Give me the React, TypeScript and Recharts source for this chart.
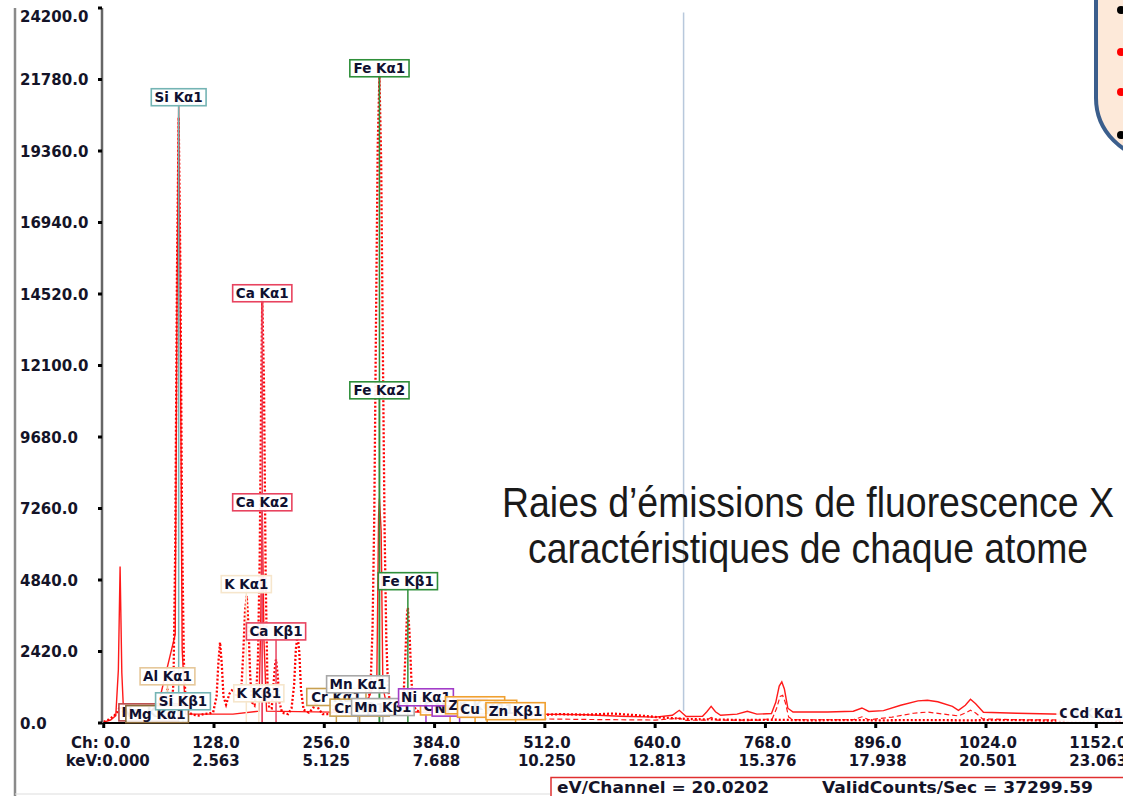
import React from "react";
import {
  LineChart,
  Line,
  XAxis,
  YAxis,
  ReferenceLine,
  ReferenceDot,
} from "recharts";

const W = 1123;
const H = 796;

// channel ticks and their keV labels (20.0202 eV / channel)
const chTicks = [0, 128, 256, 384, 512, 640, 768, 896, 1024, 1152];
const keVLabels = ["0.000", "2.563", "5.125", "7.688", "10.250", "12.813", "15.376", "17.938", "20.501", "23.063"];
const countTicks = [0, 2420, 4840, 7260, 9680, 12100, 14520, 16940, 19360, 21780, 24200];

// [channel, counts] - dotted spectrum
const dottedTrace: [number, number][] = [
  [0, 40], [6, 120], [12, 240], [16, 380], [19, 560], [22, 400], [26, 220], [32, 150], [38, 170],
  [44, 220], [48, 290], [52, 380], [56, 300], [60, 340], [63, 480], [66, 380], [69, 420], [71, 700], [74, 1150], [77, 720],
  [79, 520], [81, 1400], [83, 6000], [85, 15200], [87, 20500], [89, 15300], [91, 6400], [93, 2100], [95, 760], [98, 360],
  [104, 280], [110, 250], [116, 300], [122, 320], [127, 360], [131, 900], [133, 2000], [135, 2730], [137, 2000], [139, 900], [142, 620],
  [146, 1000], [150, 1150], [154, 880], [158, 1080], [160, 1300], [162, 2400], [164, 3800], [166, 4300], [168, 3300], [170, 1600], [172, 700],
  [175, 600], [177, 1000], [179, 2200], [181, 5500], [183, 12000], [184, 14400], [186, 11500], [188, 4800], [190, 1400], [192, 520],
  [195, 500], [197, 1300], [199, 2000], [200, 2150], [202, 1600], [204, 700], [207, 350],
  [214, 300], [218, 500], [221, 1300], [223, 2500], [225, 2960], [227, 2400], [229, 1100], [232, 450],
  [238, 350], [243, 500], [246, 700], [249, 500], [254, 300],
  [262, 300], [267, 450], [270, 620], [273, 450], [278, 320],
  [288, 360], [292, 700], [295, 1000], [298, 720], [303, 520],
  [306, 650], [308, 900], [310, 1500], [312, 3200], [314, 7000], [316, 13500], [318, 19500], [320, 21900], [322, 19000], [324, 12500], [326, 6500], [328, 2800], [330, 1200], [332, 700],
  [338, 500], [344, 520], [348, 900], [350, 2200], [352, 3700], [353, 3900], [355, 3000], [357, 1500], [359, 700], [362, 450],
  [368, 350], [374, 520], [380, 320], [395, 280], [402, 420], [408, 280], [424, 260], [431, 460], [437, 260], [470, 220], [478, 280], [486, 200],
  [500, 260], [530, 300], [560, 280], [590, 320], [620, 260], [650, 180], [680, 130], [710, 120], [740, 100], [780, 110], [820, 90],
  [860, 100], [900, 90], [950, 100], [1000, 90], [1050, 100], [1100, 80], [1150, 90], [1183, 80],
];

// [channel, counts] - solid spectrum
const solidTrace: [number, number][] = [
  [0, 30], [8, 100], [14, 250], [17, 1800], [19, 5300], [21, 1700], [23, 380], [30, 200], [60, 220],
  [83, 3000], [85, 14000], [87, 21100], [89, 13000], [91, 2500], [95, 300], [150, 300], [180, 400],
  [182, 3000], [184, 7300], [186, 2800], [189, 400], [300, 350], [317, 1500], [319, 7000], [320, 7600], [322, 6500], [324, 1200], [330, 400],
  [420, 320], [500, 300], [560, 280], [600, 230], [640, 200], [660, 260], [668, 430], [676, 220], [695, 230], [700, 380], [705, 565],
  [710, 380], [716, 260], [735, 300], [747, 396], [758, 300], [775, 320], [780, 700], [784, 1250], [787, 1390], [790, 1150], [794, 500],
  [800, 370], [840, 370], [870, 400], [880, 508], [888, 390], [905, 420], [925, 600], [945, 750], [956, 768], [968, 720], [985, 560],
  [992, 430], [1000, 600], [1006, 802], [1012, 650], [1021, 362], [1060, 330], [1114, 294], [1150, 280], [1183, 260],
];

// [channel, counts] - dashed spectrum
const dashedTrace: [number, number][] = [
  [480, 150], [560, 120], [640, 100], [668, 160], [676, 90], [700, 100], [705, 190], [712, 100], [760, 100], [776, 150],
  [781, 500], [785, 900], [788, 940], [791, 700], [795, 200], [800, 110], [870, 110], [880, 210], [888, 110], [915, 200],
  [940, 330], [956, 370], [975, 300], [992, 240], [1000, 340], [1006, 430], [1012, 340], [1020, 140], [1060, 110], [1120, 100], [1183, 90],
];

// element line markers: [text, channel, label height (counts), colour]
const markers: [string, number, number, string][] = [
  ["Na Kα1", 52, 360, "#b84848"],
  ["Mg Kα1", 62, 300, "#8a6a3a"],
  ["Al Kα1", 74, 1580, "#e6c89a"],
  ["Si Kβ1", 92, 735, "#74b4b4"],
  ["K Kβ1", 180, 1005, "#f6e6cc"],
  ["K Kα1", 165.5, 4700, "#f6e6cc"],
  ["Cr Kα1", 270, 880, "#c8a050"],
  ["Cr Kβ1", 297, 520, "#c8a050"],
  ["Mn Kβ1", 324, 540, "#a8a8a8"],
  ["Mn Kα1", 295, 1310, "#a8a8a8"],
  ["Cu Kα1", 402, 560, "#f0a030"],
  ["Ni Kβ1", 413, 520, "#a23cc8"],
  ["Ni Kα1", 374, 870, "#a23cc8"],
  ["Zn Kα1", 431, 600, "#f0a030"],
  ["Cu Kβ1", 445, 480, "#f0a030"],
  ["Zn Kβ1", 478, 400, "#f0a030"],
  ["Cd Kα2", 1140, 330, "none"],
  ["Cd Kα1", 1152, 330, "none"],
  ["Ca Kβ1", 200, 3100, "#e8435f"],
  ["Fe Kβ1", 353, 4800, "#2f8f3a"],
  ["Ca Kα2", 184, 7470, "#e8435f"],
  ["Fe Kα2", 320, 11260, "#2f8f3a"],
  ["Ca Kα1", 184, 14545, "#e8435f"],
  ["Si Kα1", 87, 21180, "#74b4b4"],
  ["Fe Kα1", 320, 22160, "#2f8f3a"],
];

const toRows = (pairs: [number, number][]) => pairs.map(([ch, v]) => ({ ch, v }));

const tickFont = { fontFamily: "DejaVu Sans", fontWeight: 700, fontSize: 15, fill: "#141428" };

function textWidth(s: string) {
  let w = 0;
  for (const c of s) {
    if (c === " " || c === "i" || c === "l") w += 4.7;
    else if (c === "M") w += 12.5;
    else w += 9.1;
  }
  return w;
}

function MarkerTag({ cx, cy, text, color }: { cx: number; cy: number; text: string; color: string }) {
  const w = textWidth(text) + 9;
  return (
    <g>
      <rect
        x={cx - w / 2}
        y={cy - 8.5}
        width={w}
        height={17}
        fill="#fff"
        fillOpacity={0.92}
        stroke={color}
        strokeWidth={1.6}
      />
      <text
        x={cx}
        y={cy + 5}
        textAnchor="middle"
        fontFamily="DejaVu Sans"
        fontWeight={700}
        fontSize={13.5}
        fill="#101030"
      >
        {text}
      </text>
    </g>
  );
}

function CountTick(props: any) {
  const { y, payload } = props;
  const cy = Math.max(y, 16);
  return (
    <text x={20} y={cy + 5.5} {...tickFont}>
      {payload.value.toFixed(1)}
    </text>
  );
}

function ChTick(props: any) {
  const { x, y, payload } = props;
  const i = chTicks.indexOf(payload.value);
  if (payload.value === 0) {
    return (
      <g {...tickFont}>
        <text x={x - 3} y={y + 17.5} textAnchor="middle">Ch: 0.0</text>
        <text x={x + 4} y={y + 35.5} textAnchor="middle">keV:{keVLabels[0]}</text>
      </g>
    );
  }
  return (
    <g {...tickFont}>
      <text x={x + 2} y={y + 17.5} textAnchor="middle">{payload.value.toFixed(1)}</text>
      <text x={x + 2} y={y + 35.5} textAnchor="middle">{keVLabels[i]}</text>
    </g>
  );
}

export default function App() {
  return (
    <div
      style={{
        position: "absolute",
        left: 0,
        top: 0,
        width: W,
        height: H,
        background: "#fff",
        overflow: "hidden",
      }}
    >
      <LineChart width={W} height={H} margin={{ top: 8, right: 0, bottom: 0, left: 2 }}>
        <XAxis
          type="number"
          dataKey="ch"
          domain={[-2, 1183]}
          allowDataOverflow
          ticks={chTicks}
          interval={0}
          height={73}
          tickSize={5}
          tickLine={{ stroke: "#000", strokeWidth: 3 }}
          axisLine={{ stroke: "#000", strokeWidth: 2 }}
          tick={<ChTick />}
        />
        <YAxis
          type="number"
          domain={[0, 24200]}
          allowDataOverflow
          ticks={countTicks}
          interval={0}
          width={100}
          tickSize={4}
          tickLine={{ stroke: "#000", strokeWidth: 3 }}
          axisLine={{ stroke: "#666", strokeWidth: 2.5 }}
          tick={<CountTick />}
        />
        <Line
          data={toRows(dashedTrace)}
          dataKey="v"
          type="linear"
          stroke="#ff1a1a"
          strokeWidth={1.2}
          strokeDasharray="5 3"
          dot={false}
          isAnimationActive={false}
        />
        <Line
          data={toRows(solidTrace)}
          dataKey="v"
          type="linear"
          stroke="#ff1a1a"
          strokeWidth={1.4}
          dot={false}
          isAnimationActive={false}
        />
        <Line
          data={toRows(dottedTrace)}
          dataKey="v"
          type="linear"
          stroke="#ff0000"
          strokeWidth={2.3}
          strokeDasharray="2 2"
          dot={false}
          isAnimationActive={false}
        />
        <ReferenceLine
          segment={[{ x: 673, y: 400 }, { x: 673, y: 24050 }]}
          stroke="#b8c8dc"
          strokeWidth={1.5}
        />
        {markers.map(([text, ch, h, color]) =>
          color === "none" ? null : (
            <ReferenceLine
              key={"l" + text}
              segment={[{ x: ch, y: 0 }, { x: ch, y: h }]}
              stroke={color}
              strokeWidth={1.5}
            />
          )
        )}
        {markers.map(([text, ch, h, color]) => (
          <ReferenceDot
            key={"d" + text}
            x={ch}
            y={h}
            r={0}
            shape={(p: any) => <MarkerTag cx={p.cx} cy={p.cy} text={text} color={color} />}
          />
        ))}
      </LineChart>
      <svg
        width={W}
        height={H}
        style={{ position: "absolute", left: 0, top: 0, pointerEvents: "none" }}
      >
        <line x1={15} y1={8} x2={15} y2={H} stroke="#8a8a8a" strokeWidth={2.5} />
        <line x1={15} y1={794} x2={550} y2={794} stroke="#dddddd" strokeWidth={1} />
        <text
          x={502}
          y={517}
          fontFamily="Liberation Sans"
          fontSize={42}
          fill="#1a1a1a"
          textLength={612}
          lengthAdjust="spacingAndGlyphs"
        >
          Raies d’émissions de fluorescence X
        </text>
        <text
          x={528}
          y={563}
          fontFamily="Liberation Sans"
          fontSize={42}
          fill="#1a1a1a"
          textLength={560}
          lengthAdjust="spacingAndGlyphs"
        >
          caractéristiques de chaque atome
        </text>
        <rect x={551} y={777.5} width={600} height={30} fill="#fff" stroke="#e03030" strokeWidth={1.5} />
        <text x={557} y={792.5} {...tickFont} textLength={212} lengthAdjust="spacingAndGlyphs">
          eV/Channel = 20.0202
        </text>
        <text x={822} y={792.5} {...tickFont} textLength={271} lengthAdjust="spacingAndGlyphs">
          ValidCounts/Sec = 37299.59
        </text>
        <rect x={1096} y={-120} width={200} height={278} rx={60} fill="#fde9d9" stroke="#3b5e8c" strokeWidth={4} />
        <circle cx={1121} cy={10} r={4} fill="#000" />
        <circle cx={1121} cy={52} r={4} fill="#ff0000" />
        <circle cx={1121} cy={92} r={4} fill="#ff0000" />
        <circle cx={1121} cy={135} r={4} fill="#000" />
      </svg>
    </div>
  );
}
